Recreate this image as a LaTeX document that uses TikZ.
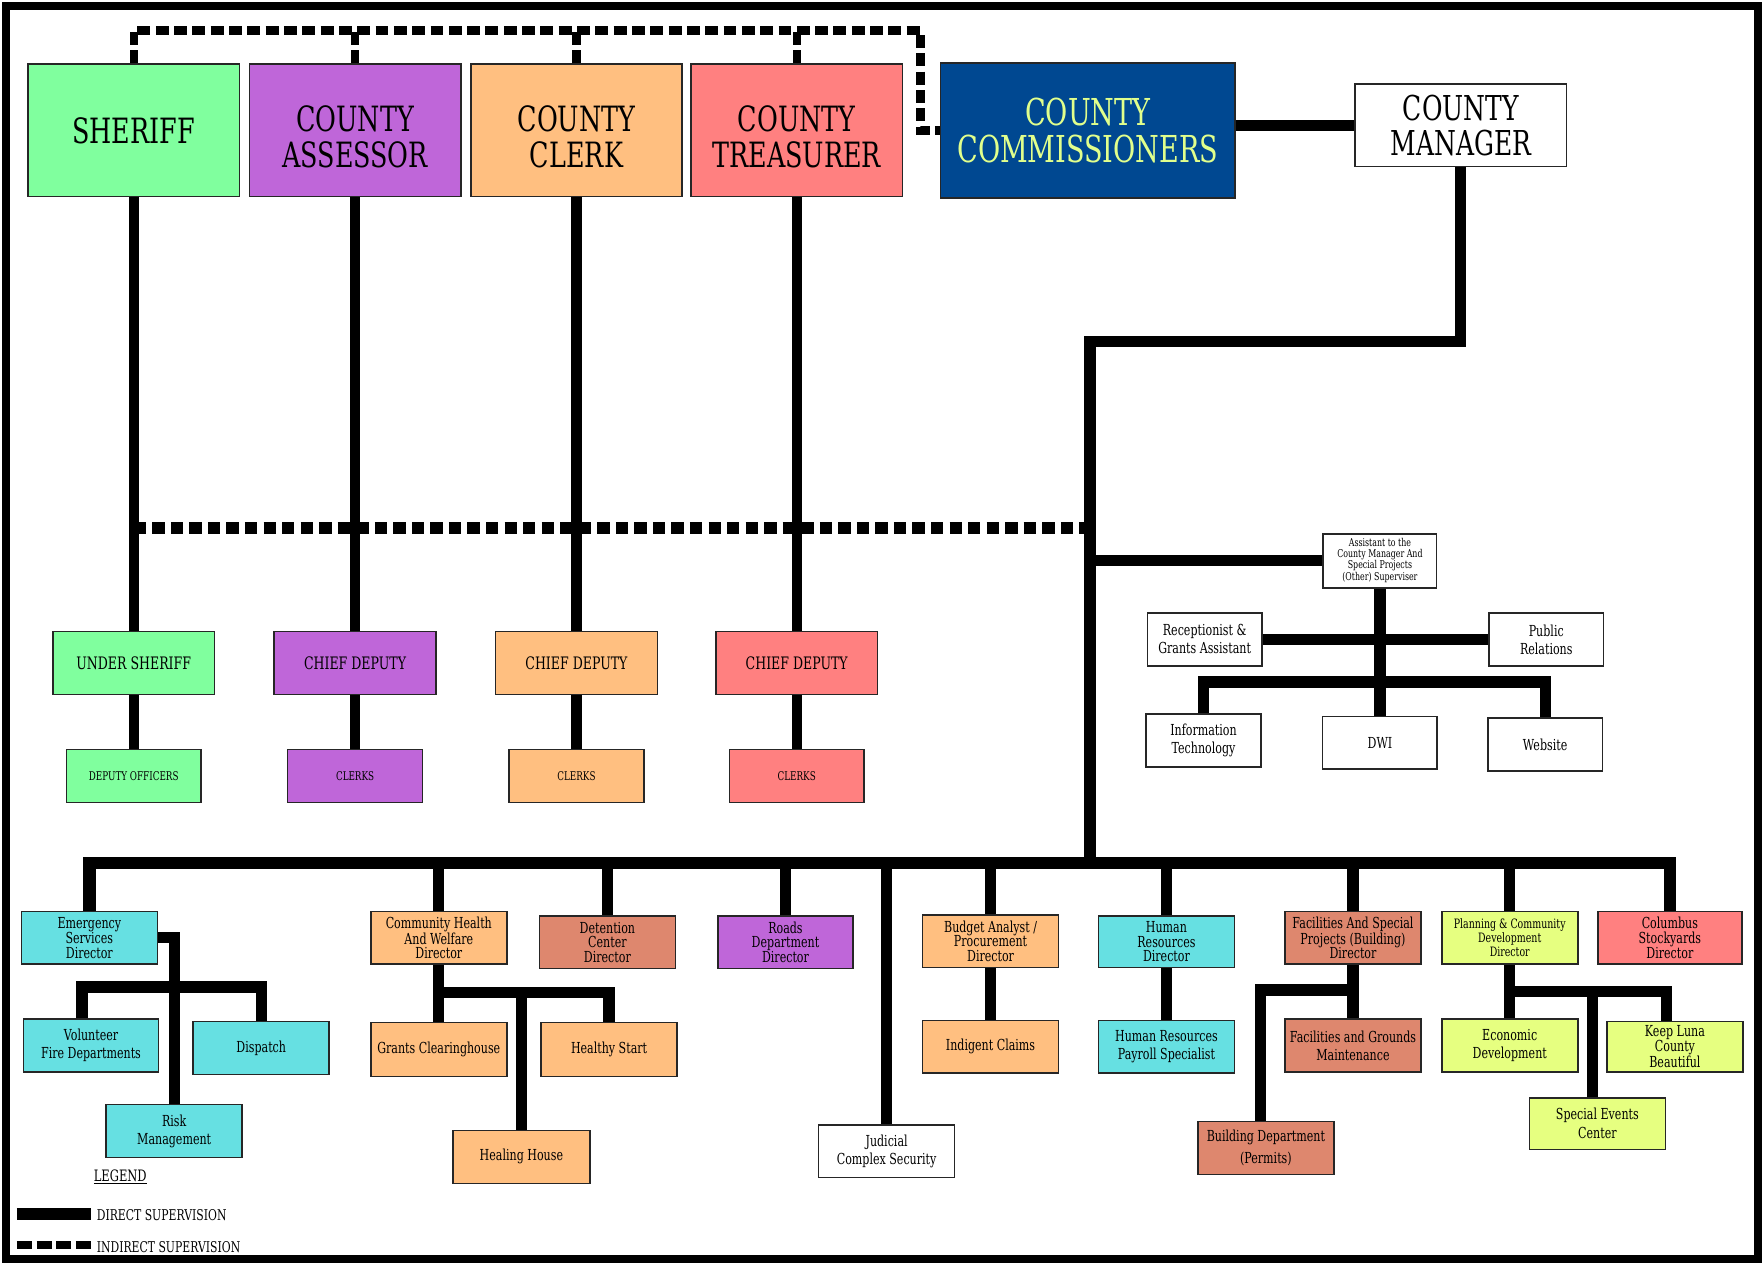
\documentclass[tikz,border=0pt]{standalone}
\usepackage{fontspec}
\setmainfont{DejaVu Serif}[FakeStretch=0.73]
\usetikzlibrary{calc}
\definecolor{cgreen}{RGB}{128,255,158}
\definecolor{cpurple}{RGB}{191,102,217}
\definecolor{corange}{RGB}{255,191,128}
\definecolor{cred}{RGB}{255,128,128}
\definecolor{cblue}{RGB}{0,72,145}
\definecolor{cyel}{RGB}{225,255,140}
\definecolor{ccyan}{RGB}{102,224,226}
\definecolor{cbrick}{RGB}{222,135,110}
\definecolor{clime}{RGB}{230,255,128}
\newcommand{\mydn}{\rule{0pt}{34.5pt}}
\begin{document}
\begin{tikzpicture}[x=1pt,y=-1pt,
  bx/.style={draw=black!85, line width=1.4pt, align=center, inner sep=0pt, text=black},
  topbx/.style={bx, minimum width=188, minimum height=118, font=\fontsize{31}{32}\selectfont},
  midbx/.style={bx, minimum width=144, minimum height=56, font=\fontsize{15.3}{17}\selectfont},
  lowbx/.style={bx, minimum width=120, minimum height=47, font=\fontsize{10.7}{12}\selectfont},
  wbx/.style={bx, fill=white, minimum width=102, minimum height=47, font=\fontsize{13.5}{16}\selectfont},
  sub3/.style={bx, minimum width=121, minimum height=47, font=\fontsize{13.5}{13}\selectfont},
  sub2/.style={sub3, font=\fontsize{13.5}{16}\selectfont},
  conn/.style={draw=black, line width=10pt, line join=miter},
  vconn/.style={draw=black, line width=9pt},
  dshA/.style={draw=black, line width=7.5pt, dash pattern=on 11.5pt off 4.8pt},
  dshB/.style={draw=black, line width=11pt, dash pattern=on 11pt off 5.5pt},
]
\useasboundingbox (0,0) rectangle (1568,1127);
\draw[line width=7.2pt] (5.4,5.4) rectangle (1564.4,1120.6);

% ---- top row
\node[topbx,fill=cgreen] (sheriff) at (119,116) {SHERIFF};
\node[topbx,fill=cpurple] (assessor) at (316,116) {\mydn COUNTY\\ASSESSOR};
\node[topbx,fill=corange] (clerk) at (513,116) {\mydn COUNTY\\CLERK};
\node[topbx,fill=cred] (treasurer) at (709,116) {\mydn COUNTY\\TREASURER};
\node[topbx,fill=cblue,text=cyel,minimum width=262,minimum height=120,font=\fontsize{33}{33}\selectfont] (cc) at (968,116) {COUNTY\\COMMISSIONERS};
\node[topbx,fill=white,minimum height=73,font=\fontsize{30.5}{31}\selectfont] (cm) at (1300,111.5) {COUNTY\\MANAGER};

% ---- second row
\node[midbx,fill=cgreen] (usher) at (119,590) {UNDER SHERIFF};
\node[midbx,fill=cpurple] (cdA) at (316,590) {CHIEF DEPUTY};
\node[midbx,fill=corange] (cdC) at (513,590) {CHIEF DEPUTY};
\node[midbx,fill=cred] (cdT) at (709,590) {CHIEF DEPUTY};

% ---- third row
\node[lowbx,fill=cgreen] (dep) at (119,690.5) {DEPUTY OFFICERS};
\node[lowbx,fill=cpurple] (clA) at (316,690.5) {CLERKS};
\node[lowbx,fill=corange] (clC) at (513,690.5) {CLERKS};
\node[lowbx,fill=cred] (clT) at (709,690.5) {CLERKS};

% ---- assistant subtree
\node[wbx,minimum width=101,minimum height=48,font=\fontsize{9.6}{9.3}\selectfont] (asst) at (1228,499) {Assistant to the\\County Manager And\\Special Projects\\(Other) Superviser};
\node[wbx] (recep) at (1072,569) {Receptionist \&\\Grants Assistant};
\node[wbx] (pr) at (1376,569) {Public\\Relations};
\node[wbx] (it) at (1071,659) {Information\\Technology};
\node[wbx] (dwi) at (1228,661) {DWI};
\node[wbx] (web) at (1375,662.5) {Website};

% ---- bottom boxes
\node[sub3,fill=ccyan] (emerg) at (79.5,834.5) {Emergency\\Services\\Director};
\node[sub2,fill=ccyan,minimum width=120] (vol) at (81,930.5) {Volunteer\\Fire Departments};
\node[sub2,fill=ccyan] (disp) at (232.5,932.5) {Dispatch};
\node[sub2,fill=ccyan] (risk) at (155,1006.5) {Risk\\Management};
\node[sub3,fill=corange] (chw) at (390.5,834.5) {Community Health\\And Welfare\\Director};
\node[sub2,fill=corange,minimum height=48] (grants) at (390.5,934) {Grants Clearinghouse};
\node[sub2,fill=corange,minimum height=48] (healthy) at (542,934) {Healthy Start};
\node[sub2,fill=corange,minimum width=122] (healing) at (464,1029.5) {Healing House};
\node[sub3,fill=cbrick] (det) at (540.5,838.5) {Detention\\Center\\Director};
\node[sub3,fill=cpurple,minimum width=120] (roads) at (699,838.5) {Roads\\Department\\Director};
\node[sub2,fill=white] (judicial) at (789,1024.5) {Judicial\\Complex Security};
\node[sub3,fill=corange] (budget) at (881.5,837.5) {Budget Analyst /\\Procurement\\Director};
\node[sub2,fill=corange] (indigent) at (881.5,931.5) {Indigent Claims};
\node[sub3,fill=ccyan,minimum height=46] (hr) at (1038,838) {Human\\Resources\\Director};
\node[sub2,fill=ccyan] (hrp) at (1038,931.5) {Human Resources\\Payroll Specialist};
\node[sub3,fill=cbrick] (fac) at (1204,834.5) {Facilities And Special\\Projects (Building)\\Director};
\node[sub2,fill=cbrick] (fg) at (1204,930.5) {Facilities and Grounds\\Maintenance};
\node[sub2,fill=cbrick,font=\fontsize{13.5}{20}\selectfont] (building) at (1126.5,1021.5) {Building Department\\(Permits)};
\node[sub3,fill=clime,font=\fontsize{11.5}{12.5}\selectfont] (plan) at (1343.5,834.5) {Planning \& Community\\Development\\Director};
\node[sub2,fill=clime] (econ) at (1343.5,930.5) {Economic\\Development};
\node[sub3,fill=clime,minimum height=45] (keep) at (1490.5,931.5) {Keep Luna\\County\\Beautiful};
\node[sub2,fill=clime,minimum height=46,font=\fontsize{13.5}{17}\selectfont] (special) at (1421.5,1000) {Special Events\\Center};
\node[sub3,fill=cred,minimum width=128] (columbus) at (1486,834.5) {Columbus\\Stockyards\\Director};

% ---- coordinates
\coordinate (tdR) at (819,27);
\coordinate (tdB) at (819,116);
\coordinate (dl) at (970,470);
\coordinate (k2) at (970,304);
\coordinate (busL) at (78,768);
\coordinate (busC) at (970,768);
\coordinate (eJ) at (155,834.5);
\coordinate (chJ) at (390.5,883.5);
\coordinate (facJ) at (1204,881);
\coordinate (plJ) at (1343.5,882);

% ---- indirect supervision (dashed)
\draw[dshA] (sheriff.north) -- (sheriff.north |- tdR) -- (tdR) -- (tdB) -- (cc.west);
\draw[dshA] (assessor.north) -- (assessor.north |- tdR);
\draw[dshA] (clerk.north) -- (clerk.north |- tdR);
\draw[dshA] (treasurer.north) -- (treasurer.north |- tdR);
\draw[dshB] (sheriff.south |- dl) -- (dl);

% ---- direct supervision
\draw[vconn] (sheriff.south) -- (usher.north);
\draw[vconn] (assessor.south) -- (cdA.north);
\draw[vconn] (clerk.south) -- (cdC.north);
\draw[vconn] (treasurer.south) -- (cdT.north);
\draw[vconn] (usher.south) -- (dep.north);
\draw[vconn] (cdA.south) -- (clA.north);
\draw[vconn] (cdC.south) -- (clC.north);
\draw[vconn] (cdT.south) -- (clT.north);

\draw[conn] (cc.east |- cm.west) -- (cm.west);
\draw[conn] (cm.south) |- (k2) -- (busC);
\draw[conn] (asst.west) -- (asst.west -| k2);
\draw[conn] (asst.south) -- (dwi.north);
\draw[conn] (recep.east) -- (pr.west);
\draw[conn] (it.north) -- ++(0,-28) -| (web.north);

\draw[conn,line width=11pt] (emerg.north) -- (emerg.north |- busL) -- (columbus.north |- busL) -- (columbus.north);
\foreach \n in {chw,det,roads,judicial,budget,hr,fac,plan}
  \draw[conn] (\n.north) -- (\n.north |- busL);

\draw[conn] (emerg.east) -- (eJ) -- (risk.north);
\draw[conn] ([xshift=-8]vol.north) -- ++(0,-28) -| (disp.north);
\draw[conn] (chw.south) -- (grants.north);
\draw[conn] (chJ) -| (healthy.north);
\draw[conn] (healing.north) -- (healing.north |- chJ);
\draw[conn] (budget.south) -- (indigent.north);
\draw[conn] (hr.south) -- (hrp.north);
\draw[conn] (fac.south) -- (fg.north);
\draw[conn] (facJ) -| ([xshift=-4.5]building.north);
\draw[conn] (plan.south) -- (econ.north);
\draw[conn] (plJ) -| ([xshift=-7.5]keep.north);
\draw[conn] ([xshift=-4.5]special.north) -- ([xshift=-4.5]special.north |- plJ);

% ---- legend
\node[font=\fontsize{14}{14}\selectfont, inner sep=0] (leg) at (107,1047) {\underline{LEGEND}};
\coordinate (lsA) at (15,1080.5);
\coordinate (lsB) at (81,1080.5);
\draw[line width=10.5pt] (lsA) -- (lsB);
\node[anchor=west, font=\fontsize{13.2}{14}\selectfont, inner sep=0] (ldir) at (86,1081) {DIRECT SUPERVISION};
\coordinate (ldA) at (15,1108);
\coordinate (ldB) at (81,1108);
\draw[line width=7.5pt, dash pattern=on 13.5pt off 4pt] (ldA) -- (ldB);
\node[anchor=west, font=\fontsize{13.2}{14}\selectfont, inner sep=0] (lind) at (86,1110) {INDIRECT SUPERVISION};
\end{tikzpicture}
\end{document}
